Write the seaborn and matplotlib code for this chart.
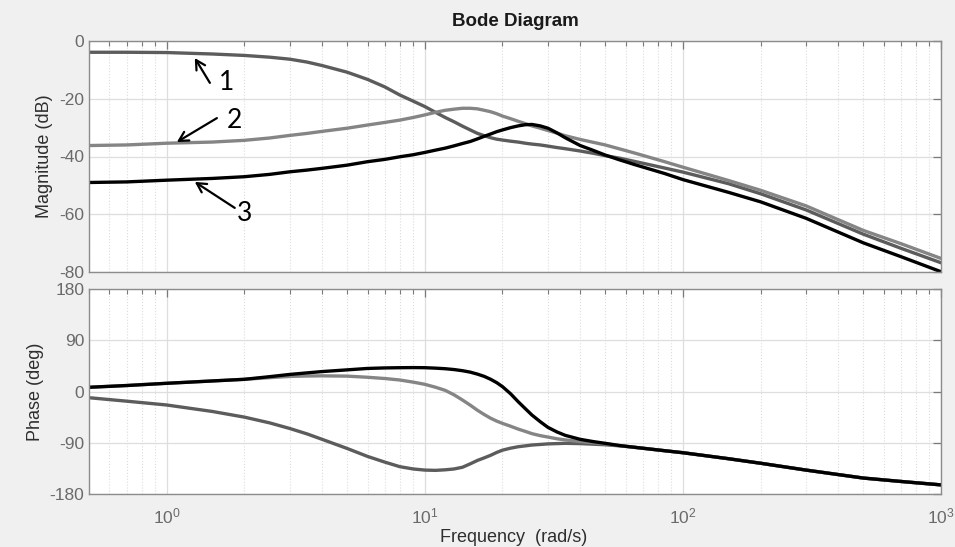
import numpy as np
import pandas as pd
import matplotlib
matplotlib.use("Agg")
import matplotlib.pyplot as plt
import matplotlib.ticker as mticker
import seaborn as sns

# ---------------- data ----------------
freq = [0.5, 0.7, 1, 1.5, 2, 2.5, 3, 3.5, 4, 5, 6, 7, 8, 9, 10, 11, 12, 13,
        14, 15, 16, 17, 18, 19, 20, 21.5, 23, 24.5, 26, 28, 30, 32.5, 35, 40,
        45, 50, 57, 65, 85, 100, 150, 200, 300, 500, 700, 1000]

mag1 = [-3.9, -3.9, -4.0, -4.5, -5.0, -5.6, -6.3, -7.3, -8.5, -10.8, -13.3,
        -15.9, -18.7, -20.8, -22.7, -24.7, -26.5, -28.0, -29.5, -30.8, -32.0,
        -32.8, -33.5, -34.0, -34.3, -34.7, -35.0, -35.4, -35.7, -36.0, -36.4,
        -36.9, -37.3, -38.1, -38.9, -39.7, -40.6, -41.7, -44.0, -45.4, -49.4,
        -52.9, -58.5, -66.9, -71.8, -76.8]
mag2 = [-36.2, -36.0, -35.4, -35.0, -34.4, -33.6, -32.7, -32.0, -31.3, -30.2,
        -29.1, -28.2, -27.4, -26.5, -25.6, -24.7, -24.0, -23.6, -23.3, -23.3,
        -23.5, -24.0, -24.5, -25.2, -26.0, -26.9, -27.8, -28.6, -29.4, -30.2,
        -31.0, -31.9, -32.8, -34.1, -35.1, -36.0, -37.4, -38.8, -41.8, -43.7,
        -48.3, -51.7, -57.1, -65.6, -70.2, -75.3]
mag3 = [-49.0, -48.8, -48.2, -47.6, -47.0, -46.2, -45.3, -44.7, -44.1, -43.0,
        -41.8, -41.0, -40.1, -39.4, -38.6, -37.8, -37.1, -36.3, -35.5, -34.8,
        -33.9, -33.0, -32.2, -31.4, -30.8, -30.0, -29.4, -29.0, -28.9, -29.4,
        -30.2, -31.8, -33.5, -36.2, -37.9, -39.5, -41.2, -42.8, -45.9, -48.0,
        -52.4, -55.7, -61.4, -69.9, -74.7, -79.9]

ph1 = [-10.9, -17, -23.7, -35, -45, -55, -65, -74.5, -84, -100, -114, -124,
       -132, -136, -138, -138.5, -137.5, -136, -133, -127, -121, -116.5, -112,
       -107, -103, -99.5, -97, -95.5, -94, -93, -92, -91.5, -91, -91.5, -92.5,
       -93.5, -95.5, -98, -104, -107.5, -118, -126, -138, -152, -158, -164]
ph2 = [7.4, 10.5, 14.4, 18.5, 21.4, 24.3, 26.5, 27.2, 27.5, 27.0, 25, 22.8,
       20.2, 16.5, 12.6, 7.5, 2, -6, -15, -24, -33, -40.5, -47, -52, -56, -61,
       -66, -70, -74, -77.5, -80, -83, -85, -88, -90, -92, -95, -98, -104,
       -107.5, -118, -126, -138, -152, -158, -164]
ph3 = [7.4, 10.5, 14.4, 18.5, 21.4, 26.0, 30, 32.7, 35, 38, 40.5, 41.4, 41.8,
       42, 41.8, 41, 40, 38.5, 36.5, 34, 30.5, 26.5, 21.4, 15.5, 8.5, -4,
       -17.9, -30, -41.3, -53, -63, -71, -77, -84, -88, -91, -95, -98, -104,
       -107.5, -118, -126, -138, -152, -158, -164]

curve_names = ["1", "2", "3"]
curve_colors = ["#5c5c5c", "#858585", "#000000"]

mag_ticks = [-80, -60, -40, -20, 0]
ph_ticks = [-180, -90, 0, 90, 180]

title = "Bode Diagram"
xlabel = "Frequency  (rad/s)"

# ---------------- styling ----------------
sns.set_theme(style="white")
plt.rcParams["font.family"] = ["Liberation Sans", "DejaVu Sans"]
plt.rcParams["axes.unicode_minus"] = False

W, H = 955, 547
fig = plt.figure(figsize=(W / 100, H / 100), dpi=100, facecolor="#f0f0f0")

def fx(px):
    return px / W

def fy(py):
    return 1 - py / H

ax1 = fig.add_axes([fx(89), fy(272), fx(941) - fx(89), fy(41) - fy(272)])
ax2 = fig.add_axes([fx(89), fy(494), fx(941) - fx(89), fy(289) - fy(494)])

mags = [mag1, mag2, mag3]
phs = [ph1, ph2, ph3]

for ax in (ax1, ax2):
    ax.set_xscale("log")
    ax.set_facecolor("white")

df_list = []
for name, m, p in zip(curve_names, mags, phs):
    df_list.append(pd.DataFrame({"freq": freq, "mag": m, "phase": p, "curve": name}))
df = pd.concat(df_list, ignore_index=True)

for name, col in zip(curve_names, curve_colors):
    sub = df[df["curve"] == name]
    sns.lineplot(data=sub, x="freq", y="mag", ax=ax1, color=col, lw=2.4,
                 estimator=None, sort=False, solid_joinstyle="round")
    sns.lineplot(data=sub, x="freq", y="phase", ax=ax2, color=col, lw=2.4,
                 estimator=None, sort=False, solid_joinstyle="round")

tick_col = "#6a6a6a"
for ax, ticks, ylab in ((ax1, mag_ticks, "Magnitude (dB)"),
                        (ax2, ph_ticks, "Phase (deg)")):
    ax.set_xlim(0.5, 1000)
    ax.set_ylim(ticks[0], ticks[-1])
    ax.set_yticks(ticks)
    ax.xaxis.set_major_locator(mticker.LogLocator(base=10, numticks=10))
    ax.xaxis.set_minor_locator(mticker.LogLocator(base=10, subs=np.arange(2, 10), numticks=20))
    ax.xaxis.set_minor_formatter(mticker.NullFormatter())
    ax.grid(True, which="major", color="#dedede", lw=0.9, ls="-")
    ax.grid(True, which="minor", axis="x", color="#dcdcdc", lw=0.8, ls=":")
    ax.set_axisbelow(True)
    ax.tick_params(axis="both", which="both", direction="in", top=True, right=True,
                   colors="#7a7a7a", labelcolor=tick_col, labelsize=12.5)
    ax.tick_params(which="major", length=6, width=0.9)
    ax.tick_params(which="minor", length=3.5, width=0.8)
    for s in ax.spines.values():
        s.set_color("#8c8c8c")
        s.set_linewidth(1.0)
    ax.set_xlabel("")
    ax.set_ylabel(ylab, fontsize=13, color="#2e2e2e")

ax1.yaxis.set_label_coords((53 - 89) / 852, 0.5)
ax2.yaxis.set_label_coords((44 - 89) / 852, 0.5)
ax1.tick_params(labelbottom=False)
ax2.tick_params(axis="x", pad=9)

fig.text(fx(515), fy(22), title, ha="center", va="center", fontsize=13.5,
         fontweight="bold", color="#1a1a1a")
fig.text(fx(514), fy(529), xlabel, ha="center", va="top", fontsize=13,
         color="#2e2e2e")

# curve annotations (arrows + numbers) on the magnitude plot
ann_text = [(1.71, -14.2), (1.835, -27.7), (2.007, -59.6)]
ann_tail = [(1.47, -14.5), (1.565, -26.7), (1.835, -57.8)]
ann_head = [(1.285, -5.9), (1.095, -35.0), (1.285, -48.8)]
for name, tpos, tail, head in zip(curve_names, ann_text, ann_tail, ann_head):
    ax1.annotate("", xy=head, xytext=tail,
                 arrowprops=dict(arrowstyle="->,head_length=0.55,head_width=0.3",
                                 lw=1.6, color="black", shrinkA=0, shrinkB=0))
    ax1.text(tpos[0], tpos[1], name, ha="center", va="center", fontsize=19,
             family=["Lato", "DejaVu Sans"], color="black")

fig.savefig("out.png", dpi=100, facecolor=fig.get_facecolor())
